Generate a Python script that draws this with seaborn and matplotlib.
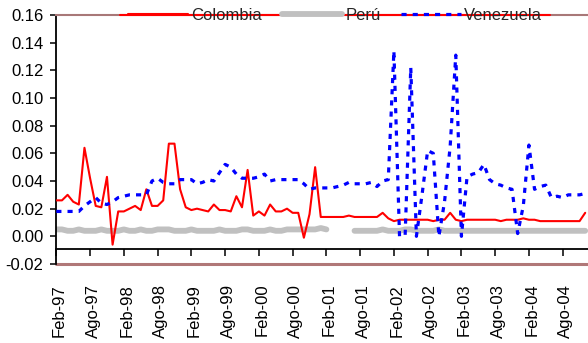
"""
Spread / tasas mensuales: Colombia, Perú y Venezuela (Feb-97 a Dic-04)
"""

import numpy as np
import pandas as pd
import matplotlib
matplotlib.use('Agg')
import matplotlib.pyplot as plt
import matplotlib.transforms as mtransforms
import seaborn as sns

nan = np.nan

# valores mensuales (Feb-97 = mes 0)
colombia = [
    0.026, 0.026, 0.030, 0.025, 0.023, 0.064, 0.042, 0.022, 0.021, 0.043,
    -0.006, 0.018, 0.018, 0.020, 0.022, 0.019, 0.034, 0.022, 0.022, 0.026,
    0.067, 0.067, 0.034, 0.021, 0.019, 0.020, 0.019, 0.018, 0.023, 0.019,
    0.019, 0.018, 0.029, 0.021, 0.048, 0.015, 0.018, 0.015, 0.023, 0.018,
    0.018, 0.020, 0.017, 0.017, -0.001, 0.016, 0.050, 0.014, 0.014, 0.014,
    0.014, 0.014, 0.015, 0.014, 0.014, 0.014, 0.014, 0.014, 0.017, 0.013,
    0.011, 0.012, 0.012, 0.012, 0.012, 0.012, 0.012, 0.011, 0.012, 0.012,
    0.017, 0.012, 0.011, 0.012, 0.012, 0.012, 0.012, 0.012, 0.012, 0.011,
    0.012, 0.012, 0.012, 0.013, 0.012, 0.012, 0.011, 0.011, 0.011, 0.011,
    0.011, 0.011, 0.011, 0.011, 0.017,
]

peru = [
    0.005, 0.005, 0.004, 0.004, 0.005, 0.004, 0.004, 0.004, 0.005, 0.004,
    0.004, 0.004, 0.005, 0.004, 0.004, 0.005, 0.004, 0.004, 0.005, 0.005,
    0.005, 0.004, 0.004, 0.004, 0.005, 0.004, 0.004, 0.004, 0.004, 0.005,
    0.004, 0.004, 0.004, 0.005, 0.005, 0.004, 0.004, 0.004, 0.005, 0.004,
    0.004, 0.005, 0.005, 0.005, 0.005, 0.005, 0.005, 0.006, 0.005, nan,
    nan, nan, nan, 0.004, 0.004, 0.004, 0.004, 0.004, 0.005, 0.004,
    0.004, 0.004, 0.005, 0.005, 0.004, 0.004, 0.004, 0.004, 0.005, 0.004,
    0.004, 0.004, 0.004, 0.004, 0.004, 0.004, 0.004, 0.004, 0.004, 0.004,
    0.004, 0.004, 0.004, 0.004, 0.004, 0.004, 0.004, 0.004, 0.004, 0.004,
    0.004, 0.004, 0.004, 0.004, 0.004,
]

venezuela = [
    0.018, 0.018, 0.018, 0.018, 0.018, 0.022, 0.025, 0.028, 0.024, 0.023,
    0.025, 0.028, 0.029, 0.030, 0.030, 0.030, 0.030, 0.040, 0.042, 0.039,
    0.038, 0.038, 0.041, 0.041, 0.041, 0.038, 0.039, 0.041, 0.040, 0.046,
    0.052, 0.050, 0.045, 0.042, 0.042, 0.042, 0.043, 0.045, 0.040, 0.041,
    0.041, 0.041, 0.041, 0.041, 0.038, 0.034, 0.035, 0.035, 0.035, 0.035,
    0.036, 0.037, 0.039, 0.038, 0.038, 0.038, 0.039, 0.036, 0.040, 0.041,
    0.134, 0.000, 0.001, 0.122, 0.000, 0.030, 0.062, 0.060, 0.000, 0.025,
    0.065, 0.131, 0.000, 0.043, 0.045, 0.046, 0.052, 0.041, 0.038, 0.037,
    0.035, 0.034, 0.002, 0.022, 0.066, 0.034, 0.036, 0.037, 0.028, 0.029,
    0.028, 0.030, 0.030, 0.030, 0.031,
]

etiquetas_x = ['Feb-97', 'Ago-97', 'Feb-98', 'Ago-98', 'Feb-99', 'Ago-99',
               'Feb-00', 'Ago-00', 'Feb-01', 'Ago-01', 'Feb-02', 'Ago-02',
               'Feb-03', 'Ago-03', 'Feb-04', 'Ago-04']
paso_etiquetas = 6

sns.set_theme(style='ticks')
plt.rcParams['font.family'] = ['Liberation Sans', 'DejaVu Sans']
plt.rcParams['axes.unicode_minus'] = False

meses = np.arange(len(colombia))
df = pd.DataFrame({'mes': meses, 'Colombia': colombia,
                   'Perú': peru, 'Venezuela': venezuela})
# tramos para que el hueco de Perú no se una
df['tramo_peru'] = df['Perú'].isna().cumsum()

fig = plt.figure(figsize=(5.88, 3.43), dpi=100)
ax = fig.add_axes([0.0958, 0.2303, 0.9042, 0.7260])

sns.lineplot(data=df.dropna(subset=['Perú']), x='mes', y='Perú',
             units='tramo_peru', estimator=None, color='#C0C0C0', lw=4.2,
             label='Perú', ax=ax, zorder=2)
sns.lineplot(data=df, x='mes', y='Colombia', color='#FF0000', lw=1.5,
             label='Colombia', ax=ax, zorder=3)
sns.lineplot(data=df, x='mes', y='Venezuela', color='#0000FF', lw=2.3,
             linestyle=(0, (1.6, 1.9)), label='Venezuela', ax=ax, zorder=4)

ax.set_xlim(0, 94.5)
ax.set_ylim(-0.02, 0.16)
ax.set_xlabel('')
ax.set_ylabel('')

# ejes
yticks = np.round(np.arange(-0.02, 0.161, 0.02), 2)
ax.set_yticks(yticks)
ax.set_yticklabels([f'{v:.2f}' for v in yticks])
xticks = np.arange(0, paso_etiquetas * len(etiquetas_x), paso_etiquetas)
ax.set_xticks(xticks)
ax.set_xticklabels(etiquetas_x)

ax.spines['right'].set_visible(False)
ax.spines['top'].set_color('#A87878')
ax.spines['top'].set_linewidth(1.5)
ax.spines['left'].set_color('black')
ax.spines['left'].set_linewidth(1.3)
ax.spines['bottom'].set_color('black')
ax.spines['bottom'].set_linewidth(1.3)
ax.spines['bottom'].set_position(('data', -0.0092))

ax.axhline(-0.02, color='#B07878', lw=2.2, clip_on=False, zorder=1)
# linea roja superior detras de la leyenda
ax.plot([0.12, 0.9285], [1, 1], transform=ax.transAxes, color='#FF0000',
        lw=1.5, clip_on=False, zorder=2.6)

ax.tick_params(axis='y', left=True, direction='out', length=4.3, width=1.1,
               pad=5, labelsize=12, colors='black')
ax.tick_params(axis='x', bottom=True, direction='out', length=5, width=1.1,
               pad=20, labelsize=12, labelrotation=90, colors='black')
desplaza = mtransforms.ScaledTranslation(2.2 / 72, 0, fig.dpi_scale_trans)
for lab in ax.get_xticklabels():
    lab.set_transform(lab.get_transform() + desplaza)

# leyenda
handles, labels = ax.get_legend_handles_labels()
por_nombre = dict(zip(labels, handles))
orden = ['Colombia', 'Perú', 'Venezuela']
ax.legend([por_nombre[n] for n in orden], orden, loc='center',
          bbox_to_anchor=(0.524, 0.998), ncol=3, frameon=False, fontsize=12,
          handlelength=3.6, handletextpad=0.2, columnspacing=1.2,
          borderpad=0, borderaxespad=0)

plt.savefig('out.png', dpi=100)
